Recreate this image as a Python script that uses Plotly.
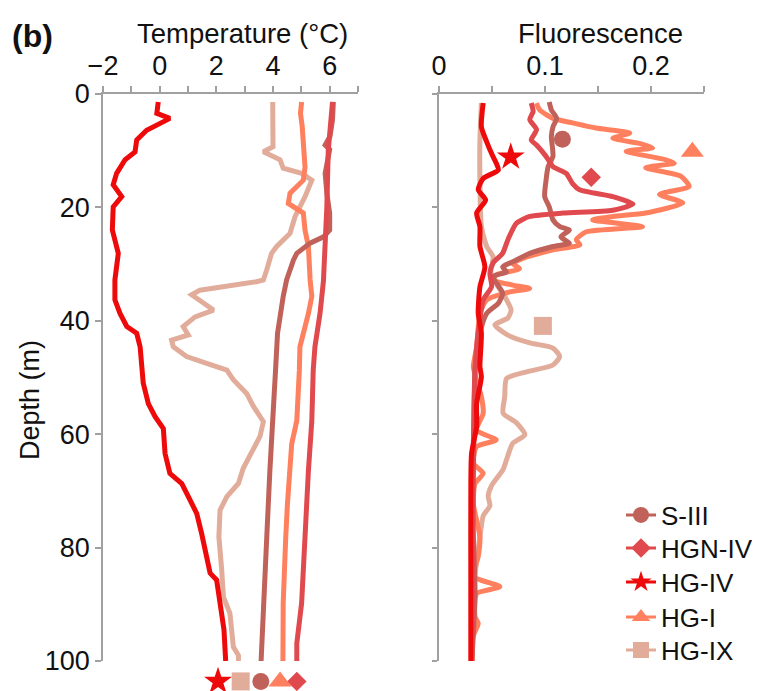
import plotly.graph_objects as go

# ---------------- data ----------------
series_names = ["S-III", "HGN-IV", "HG-IV", "HG-I", "HG-IX"]
series_colors = ["#C0625A", "#E04A4E", "#EE0A0A", "#FF805E", "#E2AC9A"]
series_symbols = ["circle", "diamond", "star", "triangle-up", "square"]
series_marker_sizes = [17, 15, 21, 20, 18]

# Temperature profiles (depth m, temperature degC)
s3_t_depth = [1.4, 4.6, 7.5, 9.0, 9.8, 11.6, 14.0, 17.5, 21.0, 24.0, 25.2, 26.3, 28.1, 29.3, 32.8, 35.7, 38.7, 42.2, 48.7, 57.6, 66.4, 78.1, 89.8, 100]
s3_t = [6.13, 6.10, 6.01, 5.84, 6.00, 5.95, 5.84, 5.90, 6.00, 6.00, 5.78, 5.31, 4.84, 4.72, 4.48, 4.36, 4.25, 4.16, 4.09, 4.01, 3.89, 3.78, 3.68, 3.58]

hgn4_t_depth = [1.4, 5.0, 10.0, 20.0, 28.0, 33.0, 38.7, 44.6, 48.7, 57.6, 66.4, 78.1, 89.8, 96.9, 100]
hgn4_t = [6.10, 6.05, 5.95, 5.90, 5.84, 5.78, 5.66, 5.48, 5.42, 5.37, 5.25, 5.13, 5.01, 4.84, 4.84]

hg4_t_depth = [1.4, 3.4, 4.3, 6.4, 8.1, 10.2, 11.6, 14.0, 16.0, 18.1, 19.9, 24.0, 28.1, 32.8, 36.3, 38.7, 41.0, 42.2, 44.6, 49.3, 51.0, 54.6, 56.9, 59.0, 63.4, 66.9, 68.7, 71.6, 74.0, 77.5, 81.6, 84.5, 85.7, 89.8, 94.5, 100]
hg4_t = [-0.05, -0.10, 0.36, -0.46, -0.81, -0.87, -1.22, -1.52, -1.64, -1.34, -1.64, -1.67, -1.46, -1.58, -1.58, -1.40, -1.16, -0.81, -0.69, -0.58, -0.58, -0.40, -0.16, 0.13, 0.19, 0.36, 0.78, 1.07, 1.31, 1.48, 1.66, 1.78, 2.01, 2.13, 2.27, 2.33]

hg1_t_depth = [1.4, 3.4, 5.7, 9.3, 12.9, 15.2, 17.5, 19.3, 20.4, 21.0, 24.0, 26.9, 32.8, 35.7, 38.7, 42.2, 44.6, 48.7, 54.6, 57.6, 61.7, 66.4, 72.3, 78.1, 84.0, 89.8, 100]
hg1_t = [5.01, 4.97, 5.03, 5.07, 5.13, 5.07, 4.60, 4.54, 4.84, 5.07, 5.13, 5.25, 5.31, 5.37, 5.25, 5.07, 4.95, 4.93, 4.89, 4.84, 4.66, 4.58, 4.51, 4.45, 4.40, 4.36, 4.35]

hg9_t_depth = [1.4, 8.1, 9.3, 10.2, 11.6, 13.1, 14.0, 15.2, 18.1, 21.6, 24.6, 26.9, 28.1, 31.0, 32.8, 33.1, 34.6, 35.4, 36.6, 38.1, 39.3, 41.0, 42.5, 43.4, 44.6, 46.3, 47.5, 48.7, 50.4, 52.8, 55.1, 57.8, 60.4, 64.0, 66.0, 68.7, 71.0, 73.4, 78.1, 84.0, 88.7, 91.6, 97.5, 99.0, 100]
hg9_t = [3.99, 3.99, 4.00, 3.66, 4.25, 4.36, 5.01, 5.37, 5.13, 4.78, 4.60, 4.13, 3.95, 3.78, 3.66, 3.42, 1.42, 1.13, 1.48, 1.90, 1.25, 0.83, 1.01, 0.42, 0.48, 0.95, 1.66, 2.37, 2.60, 3.07, 3.31, 3.66, 3.54, 3.19, 2.95, 2.78, 2.37, 2.13, 2.09, 2.19, 2.25, 2.48, 2.60, 2.78, 2.78]

# Fluorescence profiles (depth m, fluorescence)
s3_f_depth = [1.4, 2.8, 4.3, 5.8, 7.5, 11.0, 12.8, 15.2, 18.1, 19.9, 22.2, 23.4, 24.0, 25.2, 26.3, 26.9, 28.1, 29.6, 30.5, 31.4, 32.2, 35.1, 36.9, 38.7, 42.2, 48.1, 60.0, 75.0, 88.0, 100]
s3_f = [0.104, 0.106, 0.111, 0.1075, 0.106, 0.1075, 0.103, 0.101, 0.0997, 0.104, 0.1075, 0.114, 0.123, 0.115, 0.123, 0.1075, 0.0856, 0.0696, 0.060, 0.0637, 0.051, 0.060, 0.056, 0.045, 0.0386, 0.034, 0.033, 0.032, 0.034, 0.031]

hgn4_f_depth = [1.6, 3.1, 4.5, 6.3, 8.1, 9.0, 11.0, 12.8, 14.0, 15.8, 16.9, 18.1, 19.4, 20.5, 21.0, 21.6, 22.8, 25.7, 28.1, 29.8, 31.6, 34.0, 36.3, 39.8, 44.6, 55.0, 70.0, 85.0, 100]
hgn4_f = [0.087, 0.0888, 0.0856, 0.092, 0.087, 0.092, 0.101, 0.1075, 0.120, 0.126, 0.1326, 0.164, 0.183, 0.164, 0.117, 0.0856, 0.073, 0.065, 0.060, 0.051, 0.048, 0.0496, 0.0417, 0.0386, 0.0355, 0.033, 0.032, 0.032, 0.031]

hg4_f_depth = [1.6, 5.8, 8.4, 10.5, 12.2, 13.4, 14.9, 16.9, 18.7, 21.0, 23.4, 26.9, 30.5, 34.0, 38.7, 42.2, 48.1, 49.9, 54.6, 58.7, 63.4, 72.3, 84.0, 100]
hg4_f = [0.0417, 0.040, 0.0449, 0.0496, 0.054, 0.056, 0.0417, 0.037, 0.044, 0.0355, 0.0386, 0.0386, 0.0433, 0.0386, 0.037, 0.040, 0.0386, 0.040, 0.0355, 0.0355, 0.0307, 0.030, 0.030, 0.030]

hg1_f_depth = [1.6, 2.8, 4.3, 5.1, 6.0, 6.9, 7.8, 8.7, 9.5, 10.1, 11.6, 12.2, 13.0, 14.5, 16.3, 17.7, 19.2, 21.0, 21.6, 22.2, 23.4, 24.3, 25.7, 26.6, 27.5, 29.0, 29.9, 30.8, 31.9, 32.8, 33.7, 34.3, 34.9, 36.3, 38.7, 44.6, 48.1, 50.5, 53.4, 56.3, 59.3, 61.0, 62.2, 65.1, 66.9, 68.7, 72.3, 78.1, 81.6, 85.1, 86.9, 88.1, 92.2, 93.4, 95.7, 100]
hg1_f = [0.0919, 0.095, 0.1075, 0.126, 0.148, 0.180, 0.164, 0.189, 0.2016, 0.1766, 0.214, 0.222, 0.195, 0.228, 0.236, 0.208, 0.230, 0.195, 0.164, 0.145, 0.192, 0.139, 0.1295, 0.133, 0.1075, 0.079, 0.0696, 0.076, 0.0542, 0.051, 0.0696, 0.0856, 0.0668, 0.045, 0.0386, 0.0355, 0.0324, 0.0355, 0.040, 0.0417, 0.0355, 0.054, 0.0355, 0.0324, 0.0417, 0.034, 0.0324, 0.0386, 0.037, 0.0324, 0.0574, 0.0355, 0.034, 0.037, 0.032, 0.031]

hg9_f_depth = [1.6, 8.2, 15.2, 23.4, 26.9, 28.7, 31.6, 34.0, 35.7, 38.1, 39.5, 40.7, 42.4, 43.9, 44.8, 46.3, 47.8, 49.0, 50.2, 53.4, 56.3, 58.0, 60.1, 61.6, 64.5, 66.2, 69.1, 70.9, 72.6, 74.4, 76.2, 78.1, 85.0, 100]
hg9_f = [0.040, 0.0386, 0.0386, 0.040, 0.045, 0.051, 0.049, 0.0558, 0.062, 0.068, 0.065, 0.0527, 0.0637, 0.0856, 0.1075, 0.1138, 0.1075, 0.0825, 0.0637, 0.062, 0.0605, 0.073, 0.081, 0.0696, 0.0637, 0.0605, 0.0495, 0.0464, 0.048, 0.0417, 0.040, 0.0386, 0.034, 0.031]

# label marker positions (temperature panel: below the 100 m line; fluorescence panel: beside peaks)
t_label_temp = [3.57, 4.84, 2.06, 4.25, 2.86]
t_label_depth = [103.6, 103.6, 103.6, 103.6, 103.6]
f_label_fluor = [0.1164, 0.1436, 0.0677, 0.239, 0.098]
f_label_depth = [8.0, 14.7, 11.1, 10.2, 40.9]

temp_ticks = [-2, -1, 0, 1, 2, 3, 4, 5, 6, 7]
temp_ticktext = ["\u22122", "", "0", "", "2", "", "4", "", "6", ""]
fluor_ticks = [0, 0.05, 0.1, 0.15, 0.2, 0.25]
fluor_ticktext = ["0", "", "0.1", "", "0.2", ""]
depth_ticks = [0, 20, 40, 60, 80, 100]

temp_data = {
    "S-III": (s3_t, s3_t_depth), "HGN-IV": (hgn4_t, hgn4_t_depth), "HG-IV": (hg4_t, hg4_t_depth),
    "HG-I": (hg1_t, hg1_t_depth), "HG-IX": (hg9_t, hg9_t_depth),
}
fluor_data = {
    "S-III": (s3_f, s3_f_depth), "HGN-IV": (hgn4_f, hgn4_f_depth), "HG-IV": (hg4_f, hg4_f_depth),
    "HG-I": (hg1_f, hg1_f_depth), "HG-IX": (hg9_f, hg9_f_depth),
}

# ---------------- figure ----------------
OFF = 8                      # default page margin of the html body
W, H = 760, 691 - OFF
FONT = "Liberation Sans, Arial, sans-serif"
TXT = "#111111"


def px(x):
    return (x - OFF) / W


def py(y):
    return 1 - (y - OFF) / H


Y_TOP, Y_BOT = 94, 661           # pixel rows of depth 0 and depth 100
PX_PER_M = (Y_BOT - Y_TOP) / 100.0
Y_EXT = 689                      # lower edge of the marker strip axis

fig = go.Figure()

draw_order = ["HG-IX", "HG-I", "S-III", "HGN-IV", "HG-IV"]
LW = 5
for name in draw_order:
    i = series_names.index(name)
    c = series_colors[i]
    tx, ty = temp_data[name]
    fig.add_trace(go.Scatter(x=tx, y=ty, mode="lines", line=dict(color=c, width=LW),
                             xaxis="x", yaxis="y", showlegend=False, hoverinfo="skip"))
    fx, fy = fluor_data[name]
    fig.add_trace(go.Scatter(x=fx, y=fy, mode="lines", line=dict(color=c, width=LW, shape="spline", smoothing=0.6),
                             xaxis="x2", yaxis="y2", showlegend=False, hoverinfo="skip"))

legend_rows_px = [515, 548, 582, 617, 650]
legend_ids = ["legend", "legend2", "legend3", "legend4", "legend5"]
for i, name in enumerate(series_names):
    c = series_colors[i]
    sym = series_symbols[i]
    sz = series_marker_sizes[i]
    fig.add_trace(go.Scatter(x=[t_label_temp[i]], y=[t_label_depth[i]], mode="markers",
                             marker=dict(color=c, symbol=sym, size=sz, line=dict(width=0)),
                             xaxis="x", yaxis="y3", cliponaxis=False, showlegend=False, hoverinfo="skip"))
    fig.add_trace(go.Scatter(x=[f_label_fluor[i]], y=[f_label_depth[i]], mode="lines+markers", name=name,
                             line=dict(color=c, width=3),
                             marker=dict(color=c, symbol=sym, size=sz, line=dict(width=0)),
                             xaxis="x2", yaxis="y2", cliponaxis=False, legend=legend_ids[i],
                             showlegend=True, hoverinfo="skip"))

AX = "#A0A0A0"
y0, y1 = py(Y_BOT), py(Y_TOP)
common_x = dict(side="top", showline=True, linecolor=AX, linewidth=1.5, ticks="outside", ticklen=6,
                tickcolor=AX, tickwidth=1.5, showgrid=False, zeroline=False, automargin=False,
                tickfont=dict(family=FONT, size=27, color=TXT), tickmode="array")
layout_kw = dict(
    width=W, height=H, margin=dict(l=0, r=0, t=0, b=0, autoexpand=False),
    paper_bgcolor="white", plot_bgcolor="rgba(0,0,0,0)",
    font=dict(family=FONT, size=27, color=TXT),
    xaxis=dict(domain=[px(103), px(358)], range=[-2, 7], anchor="y",
               tickvals=temp_ticks, ticktext=temp_ticktext, **common_x),
    xaxis2=dict(domain=[px(439), px(704)], range=[0, 0.25], anchor="y2",
                tickvals=fluor_ticks, ticktext=fluor_ticktext, **common_x),
    yaxis=dict(domain=[y0, y1], range=[100, 0], anchor="x", showline=True, linecolor=AX, linewidth=1.5,
               ticks="outside", ticklen=6, tickcolor=AX, tickwidth=1.5, showgrid=False, zeroline=False,
               automargin=False, tickvals=depth_ticks, tickfont=dict(family=FONT, size=27, color=TXT)),
    yaxis2=dict(domain=[y0, y1], range=[100, 0], anchor="x2", showline=True, linecolor=AX, linewidth=1.5,
                ticks="outside", ticklen=5, tickcolor=AX, tickwidth=1.5, showgrid=False, zeroline=False,
                automargin=False, tickvals=depth_ticks, showticklabels=False),
    # same depth scale as yaxis, extended below 100 m for the profile-end markers
    yaxis3=dict(domain=[py(Y_EXT), y1], range=[100 + (Y_EXT - Y_BOT) / PX_PER_M, 0], anchor="x",
                visible=False, automargin=False, showgrid=False, zeroline=False),
    showlegend=True,
)
for i, lid in enumerate(legend_ids):
    layout_kw[lid] = dict(x=px(621), y=py(legend_rows_px[i]), xanchor="left", yanchor="middle",
                          bgcolor="rgba(0,0,0,0)", font=dict(family=FONT, size=26, color=TXT),
                          itemsizing="trace", borderwidth=0)
fig.update_layout(**layout_kw)

fig.add_annotation(text="<b>(b)</b>", x=px(10), y=py(36), xref="paper", yref="paper",
                   xanchor="left", yanchor="middle", showarrow=False,
                   font=dict(family=FONT, size=32, color=TXT))
fig.add_annotation(text="Temperature (°C)", x=px(242), y=py(33), xref="paper", yref="paper",
                   xanchor="center", yanchor="middle", showarrow=False,
                   font=dict(family=FONT, size=27.5, color=TXT))
fig.add_annotation(text="Fluorescence", x=px(600), y=py(33), xref="paper", yref="paper",
                   xanchor="center", yanchor="middle", showarrow=False,
                   font=dict(family=FONT, size=27.5, color=TXT))
fig.add_annotation(text="Depth (m)", x=px(30), y=py(400), xref="paper", yref="paper",
                   xanchor="center", yanchor="middle", showarrow=False, textangle=-90,
                   font=dict(family=FONT, size=27, color=TXT))

fig.write_html("out.html")
